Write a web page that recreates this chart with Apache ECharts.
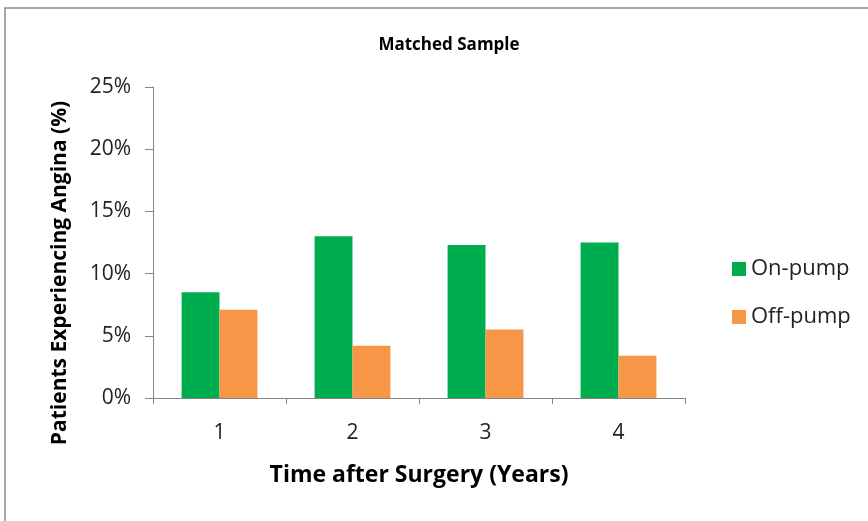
<!DOCTYPE html>
<html>
<head>
<meta charset="utf-8">
<script src="https://cdn.jsdelivr.net/npm/echarts@6/dist/echarts.min.js"></script>
<style>
  html, body { margin: 0; padding: 0; background: #fff; }
  #chart { width: 868px; height: 521px; }
</style>
</head>
<body>
<div id="chart"></div>
<script>
// Years after surgery
const years = ['1', '2', '3', '4'];
// Percentage of patients experiencing angina
const onPump = [8.5, 13.0, 12.3, 12.5];
const offPump = [7.1, 4.2, 5.5, 3.4];
// Y-axis range (percent)
const yMin = 0, yMax = 25, yStep = 5;

const FONT = '"Open Sans", "Noto Sans", sans-serif';

const chart = echarts.init(document.getElementById('chart'));
chart.setOption({
  animation: false,
  backgroundColor: '#ffffff',
  graphic: [
    {
      type: 'rect',
      shape: { x: 5, y: 8, width: 880, height: 540 },
      style: { fill: 'none', stroke: '#8c8c8c', lineWidth: 1.5 },
      silent: true
    },
    {
      // vertical axis title, set slightly below the plot's centre
      type: 'text',
      x: 60, y: 273,
      rotation: Math.PI / 2,
      style: {
        text: 'Patients Experiencing Angina (%)',
        fontFamily: FONT, fontSize: 21, fontWeight: 'bold', fill: '#000',
        align: 'center', verticalAlign: 'middle'
      },
      silent: true
    }
  ],
  title: {
    text: 'Matched Sample',
    left: 444, top: 32,
    textAlign: 'center',
    textStyle: { fontFamily: FONT, fontSize: 17, fontWeight: 'bold', color: '#000' }
  },
  legend: {
    orient: 'vertical',
    left: 727, top: 253,
    itemWidth: 14, itemHeight: 14,
    itemGap: 26,
    icon: 'rect',
    textStyle: { fontFamily: FONT, fontSize: 22, color: '#222' },
    data: ['On-pump', 'Off-pump']
  },
  grid: { left: 153, right: 183, top: 87, bottom: 123 },
  xAxis: {
    type: 'category',
    data: years,
    name: 'Time after Surgery (Years)',
    nameLocation: 'middle',
    nameGap: 66,
    nameTextStyle: { fontFamily: FONT, fontSize: 23, fontWeight: 'bold', color: '#000' },
    axisLine: { lineStyle: { color: '#868686', width: 1 } },
    axisTick: { show: true, length: 6, lineStyle: { color: '#868686' } },
    axisLabel: { fontFamily: FONT, fontSize: 21, color: '#222', margin: 25 }
  },
  yAxis: {
    type: 'value',
    min: yMin, max: yMax, interval: yStep,
    axisLine: { show: true, lineStyle: { color: '#868686', width: 1 } },
    axisTick: { show: true, length: 8, lineStyle: { color: '#868686' } },
    splitLine: { show: false },
    axisLabel: { fontFamily: FONT, fontSize: 21, color: '#222', margin: 22, formatter: '{value}%' }
  },
  series: [
    {
      name: 'On-pump', type: 'bar', data: onPump,
      barGap: '0%', barCategoryGap: '43%',
      itemStyle: { color: '#00ad4e' }
    },
    {
      name: 'Off-pump', type: 'bar', data: offPump,
      barGap: '0%', barCategoryGap: '43%',
      itemStyle: { color: '#f79646' }
    }
  ]
});
</script>
</body>
</html>
